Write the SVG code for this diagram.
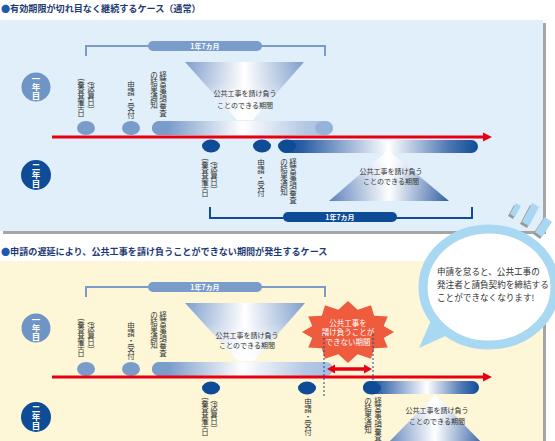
<svg xmlns="http://www.w3.org/2000/svg" width="555" height="441" viewBox="0 0 555 441">
<defs>
<linearGradient id="gSB" x1="0" x2="1" y1="0" y2="0">
<stop offset="0" stop-color="#7a9ccb"/><stop offset="0.1" stop-color="#7f9fcc"/><stop offset="0.5" stop-color="#ffffff"/><stop offset="0.85" stop-color="#b3c8e4"/><stop offset="1" stop-color="#a3bde0"/>
</linearGradient>
<linearGradient id="gNB" x1="0" x2="1" y1="0" y2="0">
<stop offset="0" stop-color="#0f4c97"/><stop offset="0.12" stop-color="#2a5ea6"/><stop offset="0.55" stop-color="#ffffff"/><stop offset="0.85" stop-color="#4f78b4"/><stop offset="1" stop-color="#0f4c97"/>
</linearGradient>
<linearGradient id="gFun" x1="0" x2="1" y1="0" y2="0">
<stop offset="0" stop-color="#7d9dcb"/><stop offset="0.5" stop-color="#ffffff"/><stop offset="1" stop-color="#7d9dcb"/>
</linearGradient>
<linearGradient id="gFunV" x1="0" x2="0" y1="0" y2="1">
<stop offset="0" stop-color="#fff" stop-opacity="0"/><stop offset="0.35" stop-color="#fff" stop-opacity="0.1"/><stop offset="1" stop-color="#fff" stop-opacity="0.95"/>
</linearGradient>
<linearGradient id="gTri" x1="0" x2="1" y1="0" y2="0">
<stop offset="0" stop-color="#5a7fba"/><stop offset="0.5" stop-color="#ffffff"/><stop offset="1" stop-color="#2f5da2"/>
</linearGradient>
<linearGradient id="gTriV" x1="0" x2="0" y1="0" y2="1">
<stop offset="0" stop-color="#fff" stop-opacity="0.95"/><stop offset="0.6" stop-color="#fff" stop-opacity="0.1"/><stop offset="1" stop-color="#fff" stop-opacity="0"/>
</linearGradient>
</defs>
<style>
text{font-family:"Noto Sans CJK JP","Noto Sans CJK SC",sans-serif}
.ttl{font-size:9.1px;font-weight:bold;fill:#1e3a72}
.bul{fill:#1a5bb0}
.vc{font-size:7.5px;fill:#333;text-anchor:middle}
.yr{writing-mode:vertical-rl;font-size:8.5px;font-weight:bold;fill:#fff;text-anchor:middle}
.pill{font-size:7px;font-weight:bold;fill:#fff;text-anchor:middle}
.cap{font-size:7px;fill:#333;text-anchor:middle}
.bt{font-size:8.6px;fill:#333}
.bst{font-size:7.5px;fill:#fff;text-anchor:middle}
.steel{fill:#7a9ccb}
.navy{fill:#0f4c97}
.brS{fill:none;stroke:#7a9ccb;stroke-width:2}
.brN{fill:none;stroke:#0f4c97;stroke-width:2}
.red{stroke:#e60012;stroke-width:3;fill:none}
.dash{stroke:#0f4c97;stroke-width:1;stroke-dasharray:2,2;fill:none}
.shadow{fill:#a5a5a5}
.mk{fill:#a9d6f0}
.mkS{fill:#9a9a9a}
</style>

<!-- Section 1 -->
<g id="title1"><text class="ttl" x="1" y="12"><tspan class="bul">●</tspan>有効期限が切れ目なく継続するケース（通常）</text></g>
<g id="panel1">
<rect class="shadow" x="3" y="23" width="543" height="211"/>
<rect x="0" y="20" width="543" height="211" fill="#e0eff9"/>
</g>

<g id="year1-circle-a"><circle cx="36" cy="87" r="14.5" fill="#6f95c6"/><text class="yr" x="36" y="87">一年目</text></g>
<g id="year2-circle-a"><circle cx="36" cy="175" r="15" fill="#0f4c97"/><text class="yr" x="36" y="175">二年目</text></g>

<g id="period-bracket-a1"><path class="brS" d="M86,56 V46 H325 V56"/><rect class="steel" x="148" y="41" width="114" height="10" rx="5"/><text class="pill" x="205" y="48.6">1年7カ月</text></g>
<g id="funnel-a"><polygon points="185,62 304,62 253,120 237,120" fill="url(#gFun)"/><polygon points="185,62 304,62 253,120 237,120" fill="url(#gFunV)"/>
<text class="cap" x="245" y="95.5">公共工事を請け負う</text><text class="cap" x="245" y="107.5">ことのできる期間</text></g>

<g id="bar-a1"><rect x="152" y="121" width="181" height="14" rx="7" fill="url(#gSB)"/><ellipse cx="324" cy="128" rx="9" ry="7" fill="#8fadd6" opacity="0.7"/></g>
<g id="m-a1-kijun"><ellipse class="steel" cx="86" cy="128" rx="9" ry="7"/>
<text class="vc"><tspan x="91" y="82.6">︵</tspan><tspan x="91" y="90.2">決</tspan><tspan x="91" y="97.8">算</tspan><tspan x="91" y="105.4">日</tspan><tspan x="91" y="113">︶</tspan></text>
<text class="vc"><tspan x="81" y="85.6">審</tspan><tspan x="81" y="93.2">査</tspan><tspan x="81" y="100.8">基</tspan><tspan x="81" y="108.4">準</tspan><tspan x="81" y="116">日</tspan></text></g>
<g id="m-a1-shinsei"><ellipse class="steel" cx="131" cy="128" rx="9" ry="7"/>
<text class="vc"><tspan x="131" y="87.6">申</tspan><tspan x="131" y="95.2">請</tspan><tspan x="131" y="102.8">・</tspan><tspan x="131" y="110.4">受</tspan><tspan x="131" y="118">付</tspan></text></g>
<g id="m-a1-kekka"><ellipse class="steel" cx="161" cy="128" rx="9" ry="7"/>
<text class="vc"><tspan x="163" y="77.6">経</tspan><tspan x="163" y="85.2">営</tspan><tspan x="163" y="92.8">事</tspan><tspan x="163" y="100.4">項</tspan><tspan x="163" y="108">審</tspan><tspan x="163" y="115.6">査</tspan></text>
<text class="vc"><tspan x="154" y="77.6">の</tspan><tspan x="154" y="85.2">結</tspan><tspan x="154" y="92.8">果</tspan><tspan x="154" y="100.4">通</tspan><tspan x="154" y="108">知</tspan></text></g>

<g id="bar-a2"><rect x="279" y="140" width="199" height="13" rx="6.5" fill="url(#gNB)"/></g>
<g id="triangle-a"><polygon points="388,150 449,201 329,201" fill="url(#gTri)"/><polygon points="388,150 449,201 329,201" fill="url(#gTriV)"/>
<text class="cap" x="391" y="174">公共工事を請け負う</text><text class="cap" x="391" y="184">ことのできる期間</text></g>
<g id="m-a2-kijun"><ellipse class="navy" cx="211" cy="146" rx="9" ry="6.5"/>
<text class="vc"><tspan x="214" y="162.6">︵</tspan><tspan x="214" y="170.2">決</tspan><tspan x="214" y="177.8">算</tspan><tspan x="214" y="185.4">日</tspan><tspan x="214" y="193">︶</tspan></text>
<text class="vc"><tspan x="205" y="165.6">審</tspan><tspan x="205" y="173.2">査</tspan><tspan x="205" y="180.8">基</tspan><tspan x="205" y="188.4">準</tspan><tspan x="205" y="196">日</tspan></text></g>
<g id="m-a2-shinsei"><ellipse class="navy" cx="262" cy="146" rx="9" ry="6.5"/>
<text class="vc"><tspan x="261" y="165.6">申</tspan><tspan x="261" y="173.2">請</tspan><tspan x="261" y="180.8">・</tspan><tspan x="261" y="188.4">受</tspan><tspan x="261" y="196">付</tspan></text></g>
<g id="m-a2-kekka"><ellipse class="navy" cx="287" cy="146" rx="9" ry="6.5"/>
<text class="vc"><tspan x="293" y="164.6">経</tspan><tspan x="293" y="172.2">営</tspan><tspan x="293" y="179.8">事</tspan><tspan x="293" y="187.4">項</tspan><tspan x="293" y="195">審</tspan><tspan x="293" y="202.6">査</tspan></text>
<text class="vc"><tspan x="284" y="164.6">の</tspan><tspan x="284" y="172.2">結</tspan><tspan x="284" y="179.8">果</tspan><tspan x="284" y="187.4">通</tspan><tspan x="284" y="195">知</tspan></text></g>
<g id="period-bracket-a2"><path class="brN" d="M210,207 V218 H472 V207"/><rect class="navy" x="283" y="212" width="114" height="10" rx="5"/><text class="pill" x="340" y="219.6">1年7カ月</text></g>

<!-- Section 2 -->
<g id="title2"><text class="ttl" x="1" y="255"><tspan class="bul">●</tspan>申請の遅延により、公共工事を請け負うことができない期間が発生するケース</text></g>
<g id="panel2">
<rect class="shadow" x="3" y="264" width="543" height="180"/>
<rect x="0" y="261" width="543" height="180" fill="#fdf7d8"/>
</g>

<g id="year1-circle-b"><circle cx="36" cy="328" r="14.5" fill="#6f95c6"/><text class="yr" x="36" y="328">一年目</text></g>
<g id="year2-circle-b"><circle cx="36" cy="417" r="15" fill="#0f4c97"/><text class="yr" x="36" y="417">二年目</text></g>

<g id="period-bracket-b1"><path class="brS" d="M86,297 V287 H325 V297"/><rect class="steel" x="148" y="282" width="114" height="10" rx="5"/><text class="pill" x="205" y="289.6">1年7カ月</text></g>
<g id="funnel-b"><polygon points="185,303 305,303 254,361 238,361" fill="url(#gFun)"/><polygon points="185,303 305,303 254,361 238,361" fill="url(#gFunV)"/>
<text class="cap" x="247" y="337.5">公共工事を請け負う</text><text class="cap" x="247" y="348">ことのできる期間</text></g>

<g id="bar-b1"><rect x="152" y="362" width="181" height="14" rx="7" fill="url(#gSB)"/></g>
<g id="m-b1-kijun"><ellipse class="steel" cx="86" cy="369" rx="9" ry="7"/>
<text class="vc"><tspan x="91" y="322.6">︵</tspan><tspan x="91" y="330.2">決</tspan><tspan x="91" y="337.8">算</tspan><tspan x="91" y="345.4">日</tspan><tspan x="91" y="353">︶</tspan></text>
<text class="vc"><tspan x="81" y="325.6">審</tspan><tspan x="81" y="333.2">査</tspan><tspan x="81" y="340.8">基</tspan><tspan x="81" y="348.4">準</tspan><tspan x="81" y="356">日</tspan></text></g>
<g id="m-b1-shinsei"><ellipse class="steel" cx="131" cy="369" rx="9" ry="7"/>
<text class="vc"><tspan x="131" y="328.6">申</tspan><tspan x="131" y="336.2">請</tspan><tspan x="131" y="343.8">・</tspan><tspan x="131" y="351.4">受</tspan><tspan x="131" y="359">付</tspan></text></g>
<g id="m-b1-kekka"><ellipse class="steel" cx="161" cy="369" rx="9" ry="7"/>
<text class="vc"><tspan x="163" y="317.6">経</tspan><tspan x="163" y="325.2">営</tspan><tspan x="163" y="332.8">事</tspan><tspan x="163" y="340.4">項</tspan><tspan x="163" y="348">審</tspan><tspan x="163" y="355.6">査</tspan></text>
<text class="vc"><tspan x="154" y="317.6">の</tspan><tspan x="154" y="325.2">結</tspan><tspan x="154" y="332.8">果</tspan><tspan x="154" y="340.4">通</tspan><tspan x="154" y="348">知</tspan></text></g>

<g id="burst"><polygon points="394,332 383.7,338 387.8,347.5 374.2,348.3 371,358.8 357.6,354.2 348,363 338.4,354.2 325,358.8 321.8,348.3 308.2,347.5 312.3,338 302,332 312.3,326 308.2,316.5 321.8,315.7 325,305.2 338.4,309.8 348,301 357.6,309.8 371,305.2 374.2,315.7 387.8,316.5 383.7,326" fill="#ef5b3d"/>
<text class="bst" x="348" y="325.5">公共工事を</text><text class="bst" x="348" y="335">請け負うことが</text><text class="bst" x="348" y="344.5">できない期間</text></g>

<g id="bar-b2"><rect x="363" y="381" width="116" height="13" rx="6.5" fill="url(#gNB)"/></g>
<g id="triangle-b"><polygon points="435,395 484,445 386,445" fill="url(#gTri)"/><polygon points="435,395 484,445 386,445" fill="url(#gTriV)"/>
<text class="cap" x="437" y="412.5">公共工事を請け負う</text><text class="cap" x="437" y="423.5">ことのできる期間</text></g>
<g id="m-b2-kijun"><ellipse class="navy" cx="211" cy="388" rx="9" ry="6.5"/>
<text class="vc"><tspan x="214" y="401.6">︵</tspan><tspan x="214" y="409.2">決</tspan><tspan x="214" y="416.8">算</tspan><tspan x="214" y="424.4">日</tspan><tspan x="214" y="432">︶</tspan></text>
<text class="vc"><tspan x="205" y="404.6">審</tspan><tspan x="205" y="412.2">査</tspan><tspan x="205" y="419.8">基</tspan><tspan x="205" y="427.4">準</tspan><tspan x="205" y="435">日</tspan></text></g>
<g id="m-b2-shinsei"><ellipse class="navy" cx="307" cy="388" rx="9" ry="6.5"/>
<text class="vc"><tspan x="308" y="404.6">申</tspan><tspan x="308" y="412.2">請</tspan><tspan x="308" y="419.8">・</tspan><tspan x="308" y="427.4">受</tspan><tspan x="308" y="435">付</tspan></text></g>
<g id="m-b2-kekka"><ellipse class="navy" cx="372" cy="388" rx="9" ry="6.5"/>
<text class="vc"><tspan x="378" y="403.6">経</tspan><tspan x="378" y="410.9">営</tspan><tspan x="378" y="418.2">事</tspan><tspan x="378" y="425.5">項</tspan><tspan x="378" y="432.8">審</tspan><tspan x="378" y="440.1">査</tspan></text>
<text class="vc"><tspan x="368" y="403.6">の</tspan><tspan x="368" y="410.9">結</tspan><tspan x="368" y="418.2">果</tspan><tspan x="368" y="425.5">通</tspan><tspan x="368" y="432.8">知</tspan></text></g>

<g id="connectors">
<line class="red" x1="52" y1="137" x2="485" y2="137"/><polygon points="483,132.5 492,137 483,141.5" fill="#e60012"/>
<line class="red" x1="52" y1="377" x2="485" y2="377"/><polygon points="483,372.5 492,377 483,381.5" fill="#e60012"/>
<line class="dash" x1="324" y1="334" x2="324" y2="396"/>
<line class="dash" x1="373" y1="334" x2="373" y2="381"/>
<line stroke="#e60012" stroke-width="3.5" x1="334" y1="369" x2="365" y2="369"/>
<polygon points="335,364.5 327,369 335,373.5" fill="#e60012"/><polygon points="364,364.5 372,369 364,373.5" fill="#e60012"/>
</g>

<g id="marks">
<polygon class="mkS" points="508,216 514,205 519,208 513,219"/><polygon class="mk" points="510,214 516,203 521,206 515,217"/>
<polygon class="mkS" points="520,224 530,205 537,209 527,228"/><polygon class="mk" points="522,222 532,203 539,207 529,226"/>
<polygon class="mkS" points="533,234 543,219 550,224 540,239"/><polygon class="mk" points="535,232 545,217 552,222 542,237"/>
</g>

<g id="bubble">
<path d="M432,318 L419,348 L450,334 Z" fill="#a9d8f2"/>
<ellipse cx="489" cy="287" rx="66" ry="58" fill="#fff" stroke="#a9d8f2" stroke-width="9"/>
<text class="bt" x="437" y="275">申請を怠ると、公共工事の</text>
<text class="bt" x="437" y="288">発注者と請負契約を締結する</text>
<text class="bt" x="437" y="301">ことができなくなります!</text>
</g>
</svg>
